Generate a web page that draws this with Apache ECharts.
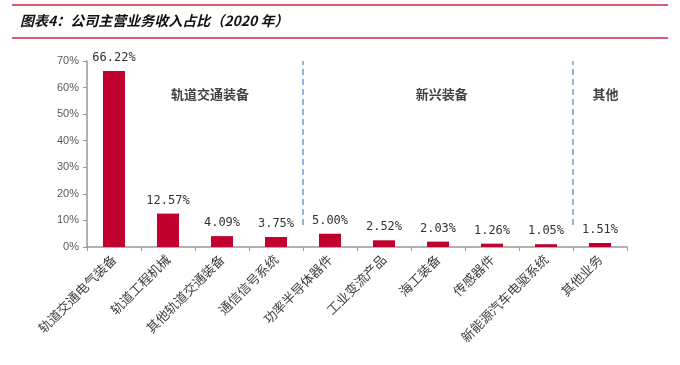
<!DOCTYPE html>
<html><head><meta charset="utf-8">
<script src="https://cdn.jsdelivr.net/npm/echarts@6/dist/echarts.min.js"></script>
<style>html,body{margin:0;padding:0;background:#fff}#c{width:680px;height:365px}</style>
</head><body><div id="c"></div>
<script>
const titleText = '图表4：公司主营业务收入占比（2020 年）';
const categories = ['轨道交通电气装备','轨道工程机械','其他轨道交通装备','通信信号系统','功率半导体器件','工业变流产品','海工装备','传感器件','新能源汽车电驱系统','其他业务'];
const values = [66.22, 12.57, 4.09, 3.75, 5.00, 2.52, 2.03, 1.26, 1.05, 1.51];
const yTicks = [0, 10, 20, 30, 40, 50, 60, 70];
const groupNames = ['轨道交通装备', '新兴装备', '其他'];
const groupCenters = [2.28, 6.57, 9.6];
const groupY = 57.6;
const dividers = [4, 9];
const dividerBottom = 8.3;

const chart = echarts.init(document.getElementById('c'));
const cjk = '"Noto Sans CJK SC", sans-serif';
const lineSeries = dividers.map(d => ({
  type: 'line', xAxisIndex: 1, yAxisIndex: 0, silent: true, symbol: 'none',
  data: [[d, dividerBottom], [d, yTicks[yTicks.length-1]]],
  lineStyle: { color: '#6A9FD8', width: 1.5, type: [6, 4] }, z: 3
}));
chart.setOption({
  animation: false,
  graphic: [
    { type: 'line', shape: { x1: 12, y1: 5, x2: 668, y2: 5 }, style: { stroke: '#C8294A', lineWidth: 1.5 } },
    { type: 'line', shape: { x1: 12, y1: 38, x2: 668, y2: 38 }, style: { stroke: '#C8294A', lineWidth: 1.5 } },
    { type: 'text', left: 20, top: 14, style: { text: titleText, font: 'italic bold 14px ' + cjk, fill: '#111' } }
  ],
  grid: { left: 87, right: 53, top: 61, bottom: 118 },
  xAxis: [{
    type: 'category', data: categories,
    axisLine: { lineStyle: { color: '#999', width: 1.5 } },
    axisTick: { show: true, length: 4, lineStyle: { color: '#999' } },
    axisLabel: { rotate: 45, color: '#404040', fontSize: 13, fontFamily: cjk, margin: 10, interval: 0 }
  }, {
    type: 'value', min: 0, max: 10, show: false
  }],
  yAxis: {
    type: 'value', min: 0, max: 70, interval: 10,
    splitLine: { show: false },
    axisLine: { show: true, lineStyle: { color: '#999', width: 1.5 } },
    axisTick: { show: true, length: 4, lineStyle: { color: '#999' } },
    axisLabel: { formatter: '{value}%', color: '#595959', fontSize: 11, fontFamily: 'Arial, "Liberation Sans", sans-serif', margin: 8 }
  },
  series: [{
    type: 'bar', data: values, barWidth: 22,
    itemStyle: { color: '#C0002F' },
    label: { show: true, position: 'top', distance: 7, color: '#333', fontSize: 12,
      fontFamily: '"DejaVu Sans Mono", monospace', formatter: p => p.value.toFixed(2) + '%' }
  }, {
    type: 'scatter', xAxisIndex: 1, yAxisIndex: 0, symbolSize: 0, silent: true,
    data: groupCenters.map((c, i) => ({ value: [c, groupY], name: groupNames[i] })),
    label: { show: true, position: 'inside', formatter: p => p.name, color: '#111', fontSize: 13, fontWeight: 'bold', fontFamily: cjk }
  }].concat(lineSeries)
});
</script></body></html>
